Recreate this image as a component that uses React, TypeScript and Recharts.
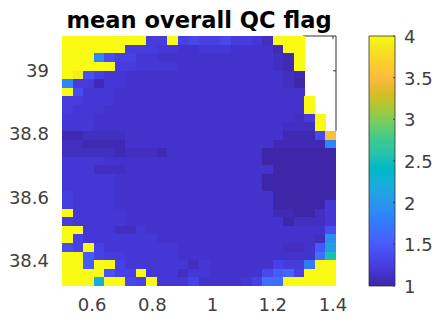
import React from "react";
import {
  Bar,
  BarChart,
  ReferenceLine,
  Scatter,
  ScatterChart,
  XAxis,
  YAxis,
} from "recharts";

const xCenters = [
  0.5175, 0.5525, 0.5875, 0.6225, 0.6575, 0.6925, 0.7275, 0.7625, 0.7975, 0.8325,
  0.8675, 0.9025, 0.9375, 0.9725, 1.0075, 1.0425, 1.0775, 1.1125, 1.1475, 1.1825,
  1.2175, 1.2525, 1.2875, 1.3225, 1.3575, 1.3925,
];
const yCenters = [
  39.096, 39.069, 39.042, 39.014, 38.987, 38.96, 38.933, 38.906, 38.878, 38.851,
  38.824, 38.797, 38.769, 38.742, 38.715, 38.688, 38.66, 38.633, 38.606, 38.579,
  38.551, 38.524, 38.497, 38.47, 38.442, 38.415, 38.388, 38.361, 38.334,
];
const xTicks = [0.6, 0.8, 1, 1.2, 1.4];
const yTicks = [38.4, 38.6, 38.8, 39];
const colorTicks = [1, 1.5, 2, 2.5, 3, 3.5, 4];
const colorRange = [{ name: "flag", range: [1, 4] }];

// mean flag per cell, top row first, null where there is no data
const qcRows: (number | null)[][] = [
  [4, 4, 4, 4, 4, 4, 4, 4, 1.25, 1.25, 4, 1.3, 1.35, 1.3, 1.32, 1.35, 1.25, 1.25, 1.2, 1.13, 4, 4, 4, null, null, null],
  [4, 4, 4, 4, 4, 4, 1.25, 1.25, 1.25, 1.2, 1.2, 1.15, 1.15, 1.2, 1.2, 1.2, 1.15, 1.15, 1.15, 1.15, 1.08, 4, 4, null, null, null],
  [4, 4, 4, 1.85, 1.4, 1.3, 1.3, 1.2, 1.2, 1.18, 1.15, 1.15, 1.15, 1.15, 1.15, 1.15, 1.15, 1.15, 1.15, 1.15, 1.12, 1.05, 4, null, null, null],
  [4, 4, 4, 4, 4, 1.28, 1.28, 1.2, 1.2, 1.2, 1.2, 1.15, 1.15, 1.15, 1.15, 1.15, 1.15, 1.15, 1.15, 1.15, 1.14, 1.05, 4, null, null, null],
  [4, 3.9, 1.45, 1.3, 1.22, 1.2, 1.15, 1.15, 1.15, 1.15, 1.15, 1.15, 1.15, 1.15, 1.15, 1.15, 1.15, 1.15, 1.15, 1.15, 1.15, 1.12, 1.05, null, null, null],
  [1.85, 1.25, 1.25, 1.05, 1.2, 1.2, 1.15, 1.15, 1.15, 1.15, 1.15, 1.15, 1.15, 1.15, 1.15, 1.15, 1.15, 1.15, 1.15, 1.15, 1.15, 1.12, 1.03, null, null, null],
  [4, 1.38, 1.22, 1.22, 1.22, 1.15, 1.15, 1.15, 1.15, 1.15, 1.15, 1.15, 1.15, 1.15, 1.15, 1.15, 1.15, 1.15, 1.15, 1.15, 1.15, 1.15, 1.15, null, null, null],
  [1.28, 1.25, 1.2, 1.2, 1.2, 1.15, 1.15, 1.15, 1.15, 1.15, 1.15, 1.15, 1.15, 1.15, 1.15, 1.15, 1.15, 1.15, 1.15, 1.15, 1.15, 1.15, 1.15, 4, null, null],
  [1.28, 1.2, 1.2, 1.2, 1.18, 1.15, 1.15, 1.15, 1.15, 1.15, 1.15, 1.15, 1.15, 1.15, 1.15, 1.15, 1.15, 1.15, 1.15, 1.15, 1.15, 1.15, 1.15, 4, null, null],
  [1.2, 1.2, 1.2, 1.18, 1.15, 1.15, 1.15, 1.15, 1.15, 1.15, 1.15, 1.15, 1.15, 1.15, 1.15, 1.15, 1.15, 1.15, 1.15, 1.15, 1.15, 1.15, 1.1, 1.25, 4, null],
  [1.2, 1.2, 1.2, 1.15, 1.15, 1.15, 1.15, 1.15, 1.15, 1.15, 1.15, 1.15, 1.15, 1.15, 1.15, 1.15, 1.15, 1.15, 1.15, 1.15, 1.15, 1.1, 1.1, 1.13, 4, null],
  [1.08, 1.08, 1.13, 1.13, 1.13, 1.13, 1.15, 1.15, 1.15, 1.15, 1.15, 1.15, 1.15, 1.15, 1.15, 1.15, 1.15, 1.15, 1.15, 1.15, 1.15, 1.05, 1.05, 1.08, 1.35, 3.5],
  [1.1, 1.1, 1.08, 1.08, 1.08, 1.08, 1.15, 1.15, 1.15, 1.15, 1.15, 1.15, 1.15, 1.15, 1.15, 1.15, 1.15, 1.15, 1.15, 1.15, 1.05, 1.05, 1.05, 1.05, 1.05, 1.85],
  [1.12, 1.12, 1.12, 1.12, 1.12, 1.08, 1.12, 1.12, 1.12, 1.08, 1.15, 1.15, 1.15, 1.15, 1.15, 1.15, 1.15, 1.15, 1.15, 1.03, 1.03, 1.03, 1.03, 1.03, 1.03, 1.03],
  [1.2, 1.2, 1.2, 1.2, 1.15, 1.15, 1.15, 1.15, 1.15, 1.15, 1.15, 1.15, 1.15, 1.15, 1.15, 1.15, 1.15, 1.15, 1.15, 1.03, 1.03, 1.03, 1.03, 1.03, 1.03, 1.03],
  [1.2, 1.2, 1.2, 1.14, 1.14, 1.14, 1.15, 1.15, 1.15, 1.15, 1.15, 1.15, 1.15, 1.15, 1.15, 1.15, 1.15, 1.15, 1.15, 1.15, 1.03, 1.03, 1.03, 1.03, 1.03, 1.03],
  [1.2, 1.2, 1.2, 1.2, 1.2, 1.15, 1.15, 1.15, 1.15, 1.15, 1.15, 1.15, 1.15, 1.15, 1.15, 1.15, 1.15, 1.15, 1.15, 1.03, 1.03, 1.03, 1.03, 1.03, 1.03, 1.03],
  [1.2, 1.2, 1.2, 1.2, 1.2, 1.15, 1.15, 1.15, 1.15, 1.15, 1.15, 1.15, 1.15, 1.15, 1.15, 1.15, 1.15, 1.15, 1.15, 1.03, 1.03, 1.03, 1.03, 1.03, 1.03, 1.03],
  [1.28, 1.2, 1.2, 1.2, 1.2, 1.15, 1.15, 1.15, 1.15, 1.15, 1.15, 1.15, 1.15, 1.15, 1.15, 1.15, 1.15, 1.15, 1.15, 1.15, 1.03, 1.03, 1.03, 1.03, 1.03, 1.03],
  [1.28, 1.2, 1.2, 1.2, 1.2, 1.15, 1.15, 1.15, 1.15, 1.15, 1.15, 1.15, 1.15, 1.15, 1.15, 1.15, 1.15, 1.15, 1.15, 1.15, 1.03, 1.03, 1.03, 1.03, 1.03, 1.2],
  [4, 1.2, 1.2, 1.2, 1.2, 1.2, 1.15, 1.15, 1.15, 1.15, 1.15, 1.15, 1.15, 1.15, 1.15, 1.15, 1.15, 1.15, 1.15, 1.15, 1.08, 1.08, 1.03, 1.03, 1.1, 1.2],
  [1.25, 1.2, 1.2, 1.2, 1.2, 1.2, 1.15, 1.15, 1.15, 1.15, 1.15, 1.15, 1.15, 1.15, 1.15, 1.15, 1.15, 1.15, 1.15, 1.15, 1.15, 1.03, 1.13, 1.13, 1.13, 1.22],
  [4, 4, 1.2, 1.2, 1.2, 1.14, 1.14, 1.22, 1.15, 1.15, 1.15, 1.15, 1.15, 1.15, 1.15, 1.15, 1.15, 1.15, 1.15, 1.15, 1.15, 1.15, 1.15, 1.15, 1.15, 1.38],
  [4, 1.3, 1.2, 1.2, 1.2, 1.2, 1.2, 1.2, 1.2, 1.15, 1.15, 1.15, 1.15, 1.15, 1.15, 1.15, 1.15, 1.15, 1.15, 1.15, 1.15, 1.15, 1.15, 1.15, 1.12, 1.95],
  [1.4, 1.3, 4, 1.3, 1.22, 1.22, 1.22, 1.22, 1.22, 1.22, 1.22, 1.15, 1.15, 1.15, 1.15, 1.15, 1.15, 1.15, 1.15, 1.15, 1.18, 1.14, 1.14, 1.17, 1.5, 2.1],
  [4, 4, 1.55, 1.3, 1.25, 1.25, 1.2, 1.2, 1.2, 1.2, 1.2, 1.17, 1.15, 1.15, 1.15, 1.18, 1.15, 1.15, 1.15, 1.18, 1.18, 1.18, 1.18, 1.18, 1.7, 2.5],
  [4, 4, 1.55, 4, 4, 1.3, 1.22, 1.22, 1.22, 1.22, 1.22, 1.2, 1.12, 1.2, 1.15, 1.18, 1.18, 1.18, 1.18, 1.18, 1.3, 1.28, 1.28, 1.75, 4, 4],
  [4, 4, 4, 4, 1.45, 1.3, 1.3, 4, 1.2, 1.2, 1.2, 1.12, 1.2, 1.22, 1.17, 1.17, 1.17, 1.17, 1.17, 1.35, 1.55, 1.6, 1.3, 4, 4, 4],
  [4, 4, 4, 2.25, 4, 4, 1.35, 1.3, 4, 1.2, 1.2, 1.2, 1.3, 1.15, 1.15, 1.15, 1.15, 1.2, 1.3, 1.7, 1.7, 4, 4, 4, 4, 4],
];

const parula = [
  "#3e26a8", "#402ab4", "#422ebf", "#4332cb", "#4537d5", "#463cde", "#4741e5", "#4747eb",
  "#484df0", "#4852f4", "#4758f8", "#465dfb", "#4563fd", "#426afe", "#3e6fff", "#3875fe",
  "#327cfc", "#2f81fa", "#2d87f7", "#2d8cf3", "#2b91ef", "#2796eb", "#259be7", "#23a0e5",
  "#20a5e3", "#1ca9df", "#18addb", "#12b1d6", "#08b5d0", "#01b8ca", "#02bac3", "#0bbdbd",
  "#18bfb5", "#24c1ae", "#2cc3a7", "#31c69f", "#37c897", "#3fca8e", "#4acb84", "#57cc7a",
  "#63cd6f", "#71cd64", "#80cc59", "#8fca4e", "#9dc942", "#abc639", "#b9c431", "#c5c22a",
  "#d1bf27", "#dcbd29", "#e6bb2d", "#efba35", "#f8ba3d", "#febe3c", "#fec338", "#fec833",
  "#fcce2e", "#fad429", "#f9da25", "#f7e021", "#f5e61e", "#f5ed1b", "#f6f416", "#f9fb15",
];

const xMin = 0.5;
const xMax = 1.41;
const yMin = 38.32;
const yMax = 39.11;
const cellDx = 0.035;
const cellDy = 0.0272;
const plotW = 274;
const plotH = 250;
const cellW = (plotW * cellDx) / (xMax - xMin);
const cellH = (plotH * cellDy) / (yMax - yMin);

const textColor = "#404040";
const frameColor = "#333333";
const font = "'DejaVu Sans', sans-serif";

const colorOf = (v: number) => {
  const i = Math.floor(((v - 1) / 3) * parula.length);
  return parula[Math.max(0, Math.min(parula.length - 1, i))];
};

const cells = qcRows.flatMap((row, r) =>
  row.flatMap((v, c) =>
    v === null ? [] : [{ x: xCenters[c], y: yCenters[r], flag: v }]
  )
);

const HeatCell = (props: any) => {
  const { cx, cy, payload } = props;
  return (
    <rect
      x={cx - cellW / 2}
      y={cy - cellH / 2}
      width={cellW + 0.4}
      height={cellH + 0.4}
      fill={colorOf(payload.flag)}
      shapeRendering="crispEdges"
    />
  );
};

const ColorTick = (props: any) => {
  const { x, y, payload } = props;
  return (
    <g>
      <line x1={x - 2} x2={x} y1={y} y2={y} stroke={frameColor} strokeWidth={0.8} />
      <text x={x + 9} y={y + 7} fontSize={18} fontFamily={font} fill={textColor}>
        {payload.value}
      </text>
    </g>
  );
};

// box around the empty corner of the map, ticks point inwards
const frameSegments = [
  [{ x: 1.3, y: yMax }, { x: xMax, y: yMax }],
  [{ x: xMax, y: yMax }, { x: xMax, y: 38.81 }],
  [{ x: 1.4, y: yMax }, { x: 1.4, y: 39.1 }],
  [{ x: xMax, y: 39 }, { x: 1.4, y: 39 }],
];

export default function App() {
  return (
    <div style={{ position: "absolute", left: 0, top: 0, width: 438, height: 322 }}>
      <div
        style={{
          position: "absolute",
          left: 0,
          width: 398,
          top: 8,
          textAlign: "center",
          fontFamily: font,
          fontWeight: "bold",
          fontSize: 22.6,
          lineHeight: "24px",
          color: "#000",
          whiteSpace: "nowrap",
        }}
      >
        mean overall QC flag
      </div>
      <div style={{ position: "absolute", left: 0, top: 0 }}>
        <ScatterChart
          width={438}
          height={322}
          margin={{ top: 36, right: 102, bottom: 0, left: 2 }}
        >
          <XAxis
            type="number"
            dataKey="x"
            domain={[xMin, xMax]}
            ticks={xTicks}
            height={36}
            axisLine={false}
            tickLine={false}
            tickMargin={6}
            allowDataOverflow
            tick={{ fontSize: 18, fontFamily: font, fill: textColor }}
          />
          <YAxis
            type="number"
            dataKey="y"
            domain={[yMin, yMax]}
            ticks={yTicks}
            width={60}
            axisLine={false}
            tickLine={false}
            tickMargin={7}
            allowDataOverflow
            tick={{ fontSize: 18, fontFamily: font, fill: textColor }}
          />
          {frameSegments.map((segment, i) => (
            <ReferenceLine
              key={i}
              segment={segment}
              stroke={frameColor}
              strokeWidth={1}
              ifOverflow="visible"
            />
          ))}
          <Scatter data={cells} shape={HeatCell} isAnimationActive={false} />
        </ScatterChart>
      </div>
      <div style={{ position: "absolute", left: 360, top: 0 }}>
        <BarChart
          width={78}
          height={322}
          data={colorRange}
          margin={{ top: 36, right: 3, bottom: 36, left: 9 }}
          barCategoryGap={0}
        >
          <defs>
            <linearGradient id="parulaFill" x1="0" y1="1" x2="0" y2="0">
              {parula.map((c, i) => (
                <stop key={i} offset={i / (parula.length - 1)} stopColor={c} />
              ))}
            </linearGradient>
          </defs>
          <XAxis dataKey="name" hide />
          <YAxis
            orientation="right"
            type="number"
            domain={[1, 4]}
            ticks={colorTicks}
            width={40}
            axisLine={false}
            tickLine={false}
            tickSize={0}
            tickMargin={0}
            tick={ColorTick}
            interval={0}
          />
          <Bar
            dataKey="range"
            fill="url(#parulaFill)"
            stroke={frameColor}
            strokeWidth={0.8}
            isAnimationActive={false}
          />
        </BarChart>
      </div>
    </div>
  );
}
